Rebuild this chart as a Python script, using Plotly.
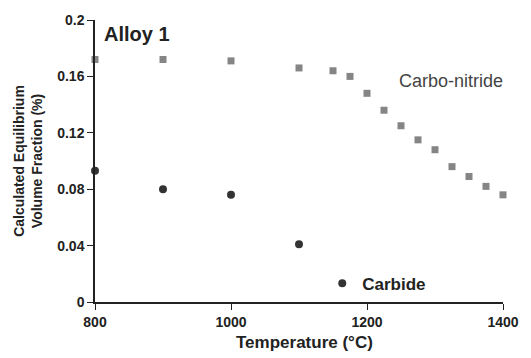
import plotly.graph_objects as go

cn_temp = [800, 900, 1000, 1100, 1150, 1175, 1200, 1225, 1250, 1275, 1300, 1325, 1350, 1375, 1400]
cn_frac = [0.172, 0.172, 0.171, 0.166, 0.164, 0.160, 0.148, 0.136, 0.125, 0.115, 0.108, 0.096, 0.089, 0.082, 0.076]

carb_temp = [800, 900, 1000, 1100]
carb_frac = [0.093, 0.080, 0.076, 0.041]

y_ticks = [0, 0.04, 0.08, 0.12, 0.16, 0.2]
y_labels = ["0", "0.04", "0.08", "0.12", "0.16", "0.2"]
x_ticks = [800, 1000, 1200, 1400]

fig = go.Figure()
fig.add_trace(go.Scatter(
    x=cn_temp, y=cn_frac, mode="markers", name="Carbo-nitride",
    marker=dict(symbol="square", size=7, color="#858585"),
    cliponaxis=False, showlegend=False))
fig.add_trace(go.Scatter(
    x=carb_temp, y=carb_frac, mode="markers", name="Carbide",
    marker=dict(symbol="circle", size=8, color="#333333"),
    cliponaxis=False, showlegend=True))

fig.update_layout(
    width=531, height=358,
    margin=dict(l=95, r=19, t=15, b=56),
    paper_bgcolor="white", plot_bgcolor="white",
    font=dict(family="Liberation Sans, Arial, sans-serif", color="#222222"),
    legend=dict(x=0.557, y=0.065, xanchor="left", yanchor="middle",
                bgcolor="rgba(0,0,0,0)",
                font=dict(size=17, color="#222222", family="Liberation Sans, Arial, sans-serif", weight="bold")),
    xaxis=dict(range=[800, 1400], tickvals=x_ticks, ticks="outside", ticklen=6,
               tickcolor="#222222", showline=True, linecolor="#222222", linewidth=1.5,
               showgrid=False, zeroline=False,
               tickfont=dict(size=14, weight="bold")),
    yaxis=dict(range=[0, 0.2], tickvals=y_ticks, ticktext=y_labels, ticks="outside", ticklen=6,
               tickcolor="#222222", showline=True, linecolor="#222222", linewidth=1.5,
               showgrid=False, zeroline=False,
               tickfont=dict(size=14, weight="bold"),
               title=dict(text="Calculated Equilibrium<br>Volume Fraction (%)",
                          font=dict(size=14, weight="bold"), standoff=11)),
    annotations=[
        dict(text="Temperature (°C)", x=0.513, y=-0.144, xref="paper", yref="paper",
             xanchor="center", yanchor="middle", showarrow=False,
             font=dict(size=17, weight="bold", color="#222222")),
        dict(text="Alloy 1", x=0.017, y=0.995, xref="paper", yref="paper",
             xanchor="left", yanchor="top", showarrow=False,
             font=dict(size=20, weight="bold", color="#222222")),
        dict(text="Carbo-nitride", x=0.739, y=0.785, xref="paper", yref="paper",
             xanchor="left", yanchor="middle", showarrow=False,
             font=dict(size=18, color="#444444")),
    ],
)

fig.write_html("out.html")
